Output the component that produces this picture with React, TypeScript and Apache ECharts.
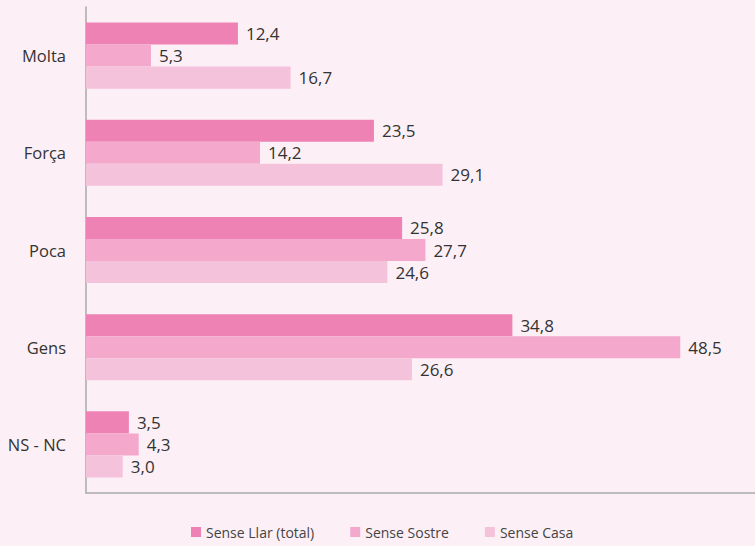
import React, { useEffect, useRef } from "react";
import * as echarts from "echarts";

const categories = ["Molta", "Força", "Poca", "Gens", "NS - NC"];
const senseLlar = [12.4, 23.5, 25.8, 34.8, 3.5];
const senseSostre = [5.3, 14.2, 27.7, 48.5, 4.3];
const senseCasa = [16.7, 29.1, 24.6, 26.6, 3.0];
const seriesNames = ["Sense Llar (total)", "Sense Sostre", "Sense Casa"];
const colors = ["#ee82b4", "#f3a8cc", "#f5c2dc"];

export default function App() {
  const ref = useRef<HTMLDivElement>(null);
  useEffect(() => {
    const chart = echarts.init(ref.current!, null, { renderer: "svg" });
    const data = [senseLlar, senseSostre, senseCasa];
    chart.setOption({
      animation: false,
      backgroundColor: "#fcf0f6",
      textStyle: { fontFamily: "Open Sans" },
      grid: { left: 86, right: 0, top: 7, bottom: 53 },
      legend: {
        bottom: 2,
        left: 186,
        itemWidth: 10,
        itemHeight: 10,
        itemGap: 36,
        icon: "rect",
        textStyle: { fontSize: 14, color: "#444", fontFamily: "Open Sans" },
        data: seriesNames,
      },
      xAxis: {
        type: "value",
        min: 0,
        max: 54.6,
        axisLabel: { show: false },
        axisTick: { show: false },
        splitLine: { show: false },
        axisLine: { show: true, lineStyle: { color: "#aaaaaa", width: 1.5 } },
      },
      yAxis: {
        type: "category",
        inverse: true,
        data: categories,
        axisTick: { show: false },
        axisLine: { show: true, lineStyle: { color: "#aaaaaa", width: 1.5 } },
        axisLabel: { fontSize: 16.5, color: "#333", margin: 20, fontFamily: "Open Sans" },
      },
      series: data.map((d, i) => ({
        name: seriesNames[i],
        type: "bar",
        data: d,
        barGap: "0%",
        barCategoryGap: "32%",
        itemStyle: { color: colors[i] },
        label: {
          show: true,
          position: "right",
          distance: 8,
          fontSize: 17,
          color: "#333",
          fontFamily: "Open Sans",
          formatter: (p: any) => p.value.toFixed(1).replace(".", ","),
        },
      })),
    });
    return () => chart.dispose();
  }, []);
  return <div ref={ref} style={{ width: 755, height: 546, position: "fixed", left: 0, top: 0 }} />;
}
